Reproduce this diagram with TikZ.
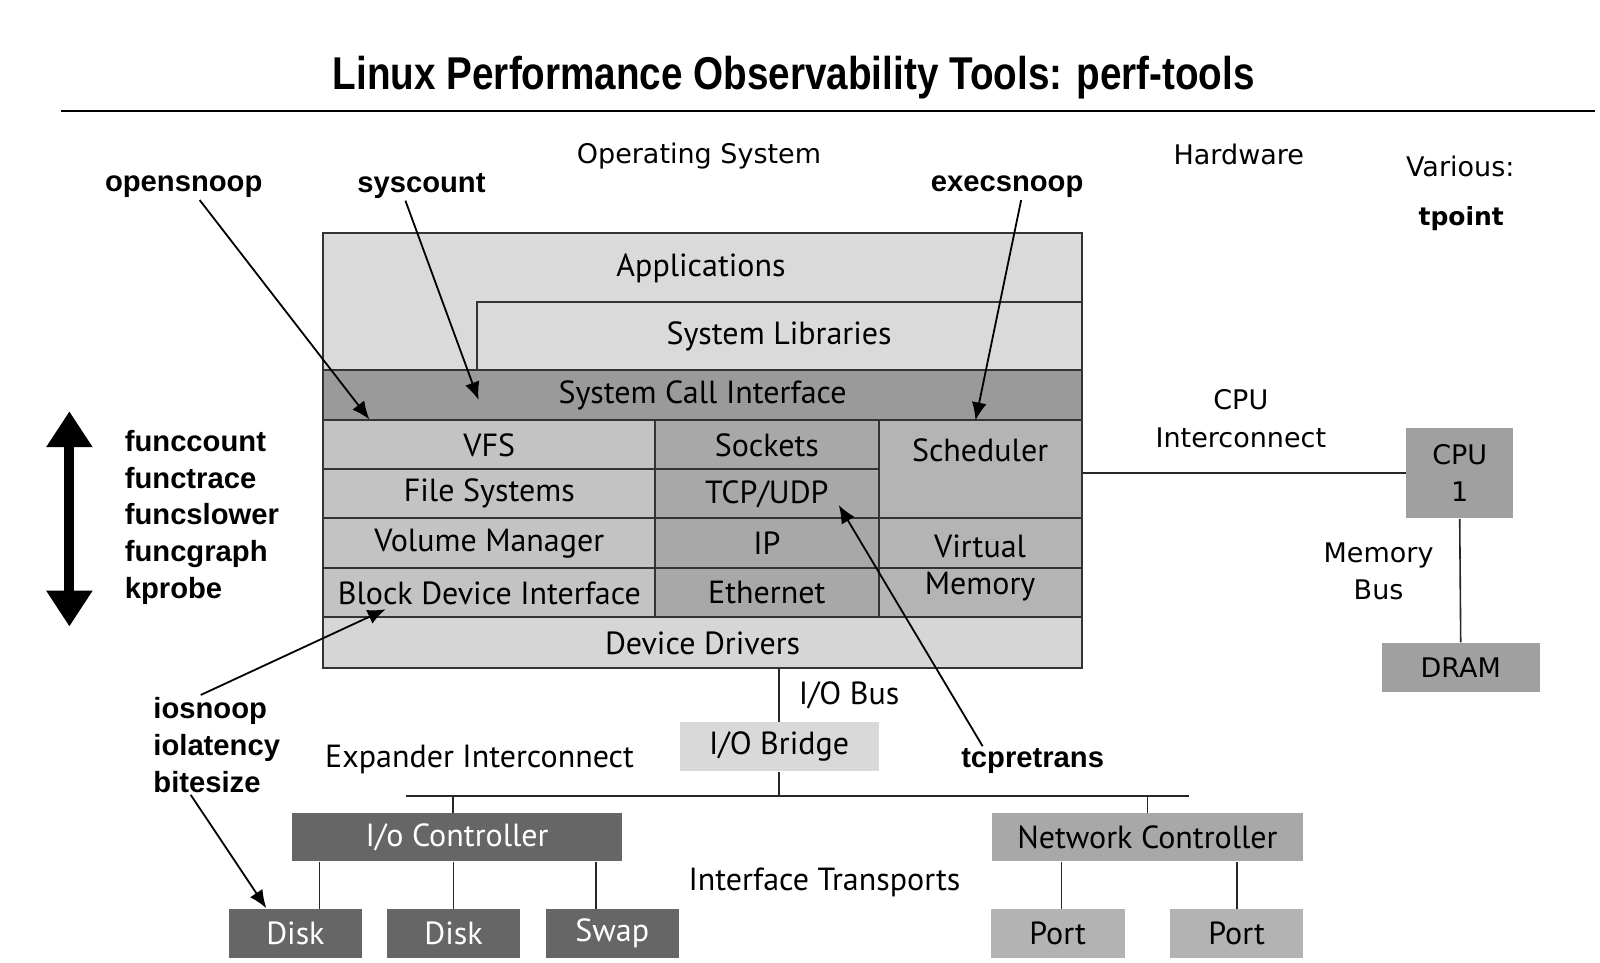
\documentclass[tikz,border=0pt]{standalone}
\usepackage{fontspec}
\setmainfont{PT Sans}
\newfontfamily\verdfont{DejaVu Sans}
\newfontfamily\toolfont{Liberation Sans}
\newfontfamily\titlefont{Liberation Sans}[FakeStretch=0.84]
\usetikzlibrary{positioning, arrows.meta}
\definecolor{appgray}{HTML}{DADADA}
\definecolor{scigray}{HTML}{9A9A9A}
\definecolor{fsgray}{HTML}{C3C3C3}
\definecolor{netgray}{HTML}{A8A8A8}
\definecolor{vmgray}{HTML}{B4B4B4}
\definecolor{drvgray}{HTML}{D6D6D6}
\definecolor{bridgegray}{HTML}{D9D9D9}
\definecolor{ctrlgray}{HTML}{666666}
\definecolor{portgray}{HTML}{B3B3B3}
\definecolor{cpugray}{HTML}{A0A0A0}

\begin{document}
\begin{tikzpicture}[x=0.5102pt, y=-0.5102pt,
  sz/.style 2 args={minimum width={#1*0.5102pt}, minimum height={#2*0.5102pt}},
  cell/.style={draw=black!80, line width=1pt, inner sep=0pt, align=center,
    font=\fontsize{16}{18.8}\selectfont},
  flat/.style={inner sep=0pt, align=center, font=\fontsize{16}{18.8}\selectfont},
  txt/.style={align=center, font=\fontsize{16}{18.8}\selectfont},
  hw/.style={align=center, font=\verdfont\fontsize{13.5}{18.8}\selectfont},
  tool/.style={align=left, inner sep=1pt, font=\toolfont\bfseries\fontsize{14.6}{18.4}\selectfont},
  probe/.style={-{Latex[length=9pt,width=7.5pt]}, line width=0.9pt},
  wire/.style={line width=0.8pt, black!85}]

\path[use as bounding box, fill=white] (0,0) rectangle (1568,943.7);

\node[font=\titlefont\bfseries\fontsize{23}{25}\selectfont] (title) at (778,76) {Linux Performance Observability Tools: perf-tools};
\coordinate (ruleL) at (60,109);
\coordinate (ruleR) at (1563,109);
\draw[line width=1.2pt] (ruleL) -- (ruleR);

\node[hw] (os) at (685,153) {Operating System};
\node[hw] (hwlab) at (1214,151) {Hardware};
\node[hw] (various) at (1431,163) {Various:};
\node[font=\verdfont\bfseries\fontsize{12.5}{18}\selectfont] (tpoint) at (1432,214) {tpoint};

\node[tool] (osn) at (180,183) {opensnoop};
\node[tool] (sys) at (413,182) {syscount};
\node[tool] (exs) at (987,183) {execsnoop};

% kernel stack
\node[cell, fill=appgray, sz={743}{135}] (apps) at (688.5,295.5) {};
\node[txt] (appstxt) at (687,263) {Applications};
\node[cell, fill=appgray, sz={593}{67}] (libs) at (763.5,329.5) {System Libraries};
\node[cell, fill=scigray, sz={743}{49}] (sci) at (688.5,387.5) {System Call Interface};
\node[cell, fill=fsgray, sz={325}{48}] (vfs) at (479.5,436) {VFS};
\node[cell, fill=fsgray, sz={325}{48}] (fs) at (479.5,484) {File Systems};
\node[cell, fill=fsgray, sz={325}{49}] (vol) at (479.5,532.5) {Volume Manager};
\node[cell, fill=fsgray, sz={325}{48}] (bdi) at (479.5,581) {Block Device Interface};
\node[cell, fill=netgray, sz={219}{48}] (sock) at (751.5,436) {Sockets};
\node[cell, fill=netgray, sz={219}{48}] (tcpudp) at (751.5,484) {TCP/UDP};
\node[cell, fill=netgray, sz={219}{49}] (ip) at (751.5,532.5) {IP};
\node[cell, fill=netgray, sz={219}{48}] (eth) at (751.5,581) {Ethernet};
\node[cell, fill=vmgray, sz={199}{96}] (sched) at (960.5,460) {Scheduler\\\mbox{}};
\node[cell, fill=vmgray, sz={199}{97}] (vm) at (960.5,556.5) {Virtual\\Memory};
\draw[line width=1pt, black!80] (vm.west) -- (vm.east);
\node[cell, fill=drvgray, sz={743}{50}] (drv) at (688.5,630) {Device Drivers};

% I/O path
\node[flat, fill=bridgegray, sz={195}{48}] (bridge) at (763.5,732) {I/O Bridge};
\node[txt] (iobus) at (832,681) {I/O Bus};
\node[txt] (expander) at (470,744) {Expander Interconnect};
\node[txt] (transports) at (808,865) {Interface Transports};
\coordinate (busL) at (398,780);
\coordinate (busR) at (1165,780);
\draw[wire] (bridge.north) -- (bridge.north |- drv.south);
\draw[wire] (bridge.south) -- (bridge.south |- busL);
\draw[wire] (busL) -- (busR);

\node[flat, fill=ctrlgray, text=white, sz={324}{47}] (ioc) at (448,820.5) {I/o Controller};
\node[flat, fill=ctrlgray, text=white, sz={131}{48}] (disk1) at (289.5,915) {Disk};
\node[flat, fill=ctrlgray, text=white, sz={131}{48}] (disk2) at (444.5,915) {Disk};
\node[flat, fill=ctrlgray, text=white, sz={130}{48}] (swap) at (600,915) {Swap};
\draw[wire] ([xshift=-2pt]ioc.north) -- ([xshift=-2pt]ioc.north |- busL);
\draw[wire] ([xshift=12pt]disk1.north) -- ([xshift=12pt]disk1.north |- ioc.south);
\draw[wire] (disk2.north) -- (disk2.north |- ioc.south);
\draw[wire] ([xshift=-8pt]swap.north) -- ([xshift=-8pt]swap.north |- ioc.south);

\node[flat, fill=netgray, sz={305}{47}] (nic) at (1124.5,820.5) {Network Controller};
\node[flat, fill=portgray, sz={131}{48}] (port1) at (1036.5,915) {Port};
\node[flat, fill=portgray, sz={130}{48}] (port2) at (1212,915) {Port};
\draw[wire] (nic.north) -- (nic.north |- busL);
\draw[wire] ([xshift=2pt]port1.north) -- ([xshift=2pt]port1.north |- nic.south);
\draw[wire] (port2.north) -- (port2.north |- nic.south);

\node[tool] (tcp) at (1012,746) {tcpretrans};

% hardware
\node[flat, fill=cpugray, sz={105}{89}, font=\verdfont\fontsize{13.5}{18.4}\selectfont] (cpu) at (1430.5,463.5) {CPU\\1};
\node[flat, fill=cpugray, sz={155}{48}, font=\verdfont\fontsize{13.5}{18}\selectfont] (dram) at (1431.5,654) {DRAM};
\node[hw] (cpuic) at (1216,410) {CPU\\Interconnect};
\node[hw] (membus) at (1351,560) {Memory\\Bus};
\draw[wire] (cpu.west -| sched.east) -- (cpu.west);
\draw[wire] (cpu.south) -- (dram.north);

% tracing tools
\coordinate (fup) at (68,403);
\coordinate (fdn) at (68,614);
\draw[line width=5pt, {Triangle[width=22pt,length=18pt]}-{Triangle[width=22pt,length=18pt]}] (fup) -- (fdn);
\node[tool, anchor=west] (func) at (120,507) {funccount\\functrace\\funcslower\\funcgraph\\kprobe};
\node[tool, anchor=west] (iob) at (148,730) {iosnoop\\iolatency\\bitesize};

\coordinate (sciL) at (362,411);
\coordinate (sciM) at (469,392);
\coordinate (schedT) at (956,412);
\coordinate (tcpT) at (822,495);
\coordinate (bdiT) at (378,597);
\coordinate (diskT) at (261,890);
\draw[probe] ([xshift=8pt]osn.south) -- (sciL);
\draw[probe] ([xshift=-8pt]sys.south) -- (sciM);
\draw[probe] ([xshift=7pt]exs.south) -- (schedT);
\draw[probe] ([xshift=-25pt]tcp.north) -- (tcpT);
\draw[probe] ([xshift=-8pt]iob.north) -- (bdiT);
\draw[probe] ([xshift=-13pt]iob.south) -- (diskT);
\end{tikzpicture}
\end{document}
